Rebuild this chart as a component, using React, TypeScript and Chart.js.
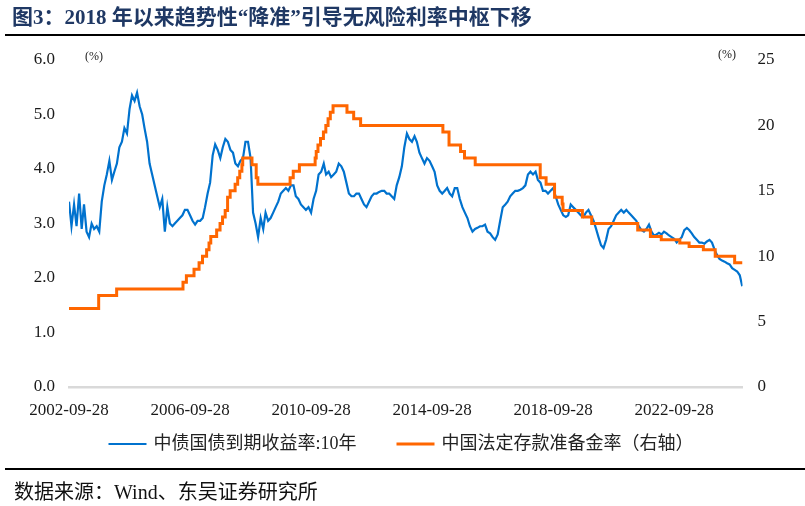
import React, { useEffect, useRef } from 'react';
import { Chart, registerables } from 'chart.js';

Chart.register(...registerables);

const TITLE = '图3：2018 年以来趋势性“降准”引导无风险利率中枢下移';
const SOURCE = '数据来源：Wind、东吴证券研究所';
const SERIES_YIELD = '中债国债到期收益率:10年';
const SERIES_RRR = '中国法定存款准备金率（右轴）';
const UNIT_LEFT = '(%)';
const UNIT_RIGHT = '(%)';

const X_START = '2002-09-28';
const X_END = '2024-12-31';
const X_TICK_LABELS = ['2002-09-28', '2006-09-28', '2010-09-28', '2014-09-28', '2018-09-28', '2022-09-28'];

const LEFT_MIN = 0;
const LEFT_MAX = 6;
const LEFT_STEP = 1;
const RIGHT_MIN = 0;
const RIGHT_MAX = 25;
const RIGHT_STEP = 5;

// 10Y CGB yield, monthly readings (28th of month), starting 2002-09
const YIELD_START_YEAR = 2002;
const YIELD_START_MONTH = 9;
const y2002 = [3.4, 2.95, 3.35, 2.95];
const y2003 = [3.55, 2.9, 3.35, 2.85, 2.75, 3.0, 2.9, 2.95, 2.85, 3.4, 3.7, 3.9];
const y2004 = [4.15, 3.8, 3.95, 4.1, 4.4, 4.5, 4.75, 4.65, 5.1, 5.35, 5.25, 5.4];
const y2005 = [5.15, 5.0, 4.75, 4.5, 4.1, 3.9, 3.7, 3.5, 3.3, 3.45, 2.85, 3.3];
const y2006 = [3.0, 2.95, 3.0, 3.05, 3.1, 3.15, 3.25, 3.25, 3.15, 3.05, 2.98, 3.05];
const y2007 = [3.05, 3.1, 3.3, 3.55, 3.75, 4.25, 4.45, 4.35, 4.2, 4.4, 4.55, 4.5];
const y2008 = [4.35, 4.3, 4.1, 4.05, 4.15, 4.2, 4.5, 4.5, 4.2, 3.2, 3.0, 2.75];
const y2009 = [3.1, 2.9, 3.2, 3.05, 3.1, 3.2, 3.3, 3.4, 3.55, 3.6, 3.65, 3.6];
const y2010 = [3.7, 3.7, 3.5, 3.45, 3.35, 3.3, 3.25, 3.3, 3.2, 3.45, 3.6, 3.9];
const y2011 = [3.95, 4.1, 3.9, 3.95, 3.85, 3.9, 3.95, 4.1, 4.05, 3.95, 3.75, 3.55];
const y2012 = [3.5, 3.5, 3.55, 3.55, 3.45, 3.35, 3.3, 3.4, 3.5, 3.55, 3.55, 3.58];
const y2013 = [3.6, 3.6, 3.55, 3.55, 3.5, 3.45, 3.7, 3.85, 4.05, 4.4, 4.65, 4.55];
const y2014 = [4.5, 4.6, 4.5, 4.3, 4.2, 4.1, 4.2, 4.15, 4.05, 3.95, 3.7, 3.6];
const y2015 = [3.55, 3.6, 3.65, 3.55, 3.5, 3.65, 3.65, 3.45, 3.3, 3.2, 3.1, 2.95];
const y2016 = [2.85, 2.9, 2.92, 2.95, 2.95, 2.98, 2.85, 2.82, 2.75, 2.7, 2.8, 3.05];
const y2017 = [3.3, 3.35, 3.4, 3.5, 3.55, 3.6, 3.6, 3.62, 3.65, 3.7, 3.9, 3.95];
const y2018 = [3.9, 3.95, 3.8, 3.75, 3.6, 3.6, 3.55, 3.6, 3.65, 3.5, 3.35, 3.25];
const y2019 = [3.15, 3.12, 3.15, 3.35, 3.3, 3.25, 3.2, 3.15, 3.12, 3.2, 3.25, 3.15];
const y2020 = [3.05, 2.9, 2.75, 2.6, 2.55, 2.7, 2.9, 2.95, 3.05, 3.15, 3.2, 3.25];
const y2021 = [3.2, 3.25, 3.2, 3.15, 3.1, 3.05, 2.95, 2.88, 2.85, 2.9, 2.98, 2.85];
const y2022 = [2.78, 2.8, 2.83, 2.8, 2.85, 2.82, 2.78, 2.75, 2.72, 2.65, 2.7, 2.75];
const y2023 = [2.88, 2.92, 2.88, 2.82, 2.75, 2.7, 2.65, 2.65, 2.63, 2.67, 2.7, 2.65];
const y2024 = [2.52, 2.42, 2.35, 2.32, 2.3, 2.27, 2.25, 2.18, 2.15, 2.12, 2.05, 1.85];

// Required reserve ratio: change dates and new levels
const RRR_DATES = [
  '2002-09-28', '2003-09-21', '2004-04-25', '2006-07-05', '2006-08-15', '2006-11-15',
  '2007-01-15', '2007-02-25', '2007-04-16', '2007-05-15', '2007-06-05', '2007-08-15',
  '2007-09-25', '2007-10-25', '2007-11-26', '2007-12-25', '2008-01-25', '2008-03-25',
  '2008-04-25', '2008-05-20', '2008-06-15', '2008-06-25', '2008-10-15', '2008-12-05',
  '2008-12-25', '2010-01-18', '2010-02-25', '2010-05-10', '2010-11-16', '2010-11-29',
  '2010-12-20', '2011-01-20', '2011-02-24', '2011-03-25', '2011-04-21', '2011-05-18',
  '2011-06-20', '2011-12-05', '2012-02-24', '2012-05-18', '2015-02-05', '2015-04-20',
  '2015-09-06', '2015-10-24', '2016-03-01', '2018-04-25', '2018-07-05', '2018-10-15',
  '2019-01-15', '2019-01-25', '2019-09-16', '2020-01-06', '2021-07-15', '2021-12-15',
  '2022-04-25', '2022-12-05', '2023-03-27', '2023-09-15', '2024-02-05', '2024-09-27',
  '2024-12-31',
];
const RRR_VALUES = [
  6, 7, 7.5, 8, 8.5, 9,
  9.5, 10, 10.5, 11, 11.5, 12,
  12.5, 13, 13.5, 14.5, 15, 15.5,
  16, 16.5, 17, 17.5, 17, 16,
  15.5, 16, 16.5, 17, 17.5, 18,
  18.5, 19, 19.5, 20, 20.5, 21,
  21.5, 21, 20.5, 20, 19.5, 18.5,
  18, 17.5, 17, 16, 15.5, 14.5,
  14, 13.5, 13, 12.5, 12, 11.5,
  11.25, 11, 10.75, 10.5, 10, 9.5,
  9.5,
];

const FONT = "'Liberation Serif', 'Noto Sans CJK SC', serif";
const BLUE = '#0072CE';
const ORANGE = '#FF6600';

function toYear(s: string): number {
  const [y, m, d] = s.split('-').map(Number);
  const t0 = Date.UTC(y, 0, 1);
  const t1 = Date.UTC(y + 1, 0, 1);
  return y + (Date.UTC(y, m - 1, d) - t0) / (t1 - t0);
}

const YIELD_VALUES = [
  ...y2002, ...y2003, ...y2004, ...y2005, ...y2006, ...y2007, ...y2008, ...y2009,
  ...y2010, ...y2011, ...y2012, ...y2013, ...y2014, ...y2015, ...y2016, ...y2017,
  ...y2018, ...y2019, ...y2020, ...y2021, ...y2022, ...y2023, ...y2024,
];

function yieldDate(i: number): string {
  const mIdx = YIELD_START_MONTH - 1 + i;
  const y = YIELD_START_YEAR + Math.floor(mIdx / 12);
  const m = (mIdx % 12) + 1;
  return `${y}-${String(m).padStart(2, '0')}-28`;
}

const decorPlugin = {
  id: 'decor',
  afterDraw(chart: any) {
    const ctx = chart.ctx;
    ctx.save();
    ctx.fillStyle = '#222';
    ctx.textBaseline = 'middle';
    ctx.textAlign = 'left';
    ctx.font = `12px ${FONT}`;
    ctx.fillText(UNIT_LEFT, 85, 57);
    ctx.fillText(UNIT_RIGHT, 718, 55);

    // legend
    ctx.font = `18px ${FONT}`;
    const items = chart.data.datasets.map((ds: any) => ({
      label: ds.label,
      color: ds.borderColor,
      lw: ds.borderWidth,
    }));
    const lineLen = 38;
    const gap = 7;
    const itemGap = 40;
    const widths = items.map((it: any) => lineLen + gap + ctx.measureText(it.label).width);
    const total = widths.reduce((a: number, b: number) => a + b, 0) + itemGap * (items.length - 1);
    let x = 401 - total / 2;
    const yC = 444;
    items.forEach((it: any, k: number) => {
      ctx.strokeStyle = it.color;
      ctx.lineWidth = it.lw;
      ctx.beginPath();
      ctx.moveTo(x, yC);
      ctx.lineTo(x + lineLen, yC);
      ctx.stroke();
      ctx.fillStyle = '#222';
      ctx.fillText(it.label, x + lineLen + gap, yC);
      x += widths[k] + itemGap;
    });
    ctx.restore();
  },
};

export default function App() {
  const ref = useRef<HTMLCanvasElement | null>(null);

  useEffect(() => {
    if (!ref.current) return;
    const xMin = toYear(X_START);
    const xMax = toYear(X_END);
    const xTicks = X_TICK_LABELS.map(toYear);
    const yieldData = YIELD_VALUES.map((v, i) => ({ x: toYear(yieldDate(i)), y: v }));
    const rrrData = RRR_VALUES.map((v, i) => ({ x: toYear(RRR_DATES[i]), y: v }));

    const chart = new Chart(ref.current, {
      type: 'line',
      data: {
        datasets: [
          {
            label: SERIES_YIELD,
            data: yieldData,
            borderColor: BLUE,
            backgroundColor: BLUE,
            borderWidth: 2.2,
            pointRadius: 0,
            tension: 0,
            yAxisID: 'y',
            order: 1,
          },
          {
            label: SERIES_RRR,
            data: rrrData,
            borderColor: ORANGE,
            backgroundColor: ORANGE,
            borderWidth: 3,
            pointRadius: 0,
            stepped: 'before',
            yAxisID: 'y1',
            order: 0,
          },
        ],
      },
      options: {
        responsive: false,
        animation: false,
        events: [],
        layout: { padding: { top: 60, left: 0, right: 0, bottom: 0 } },
        plugins: {
          legend: { display: false },
          tooltip: { enabled: false },
          title: { display: false },
        },
        scales: {
          x: {
            type: 'linear',
            min: xMin,
            max: xMax,
            grid: { display: false, drawTicks: false },
            border: { display: true, color: '#D9D9D9', width: 2.5 },
            afterBuildTicks: (scale: any) => {
              scale.ticks = xTicks.map((v) => ({ value: v }));
            },
            afterFit: (scale: any) => {
              scale.height = 119;
            },
            ticks: {
              autoSkip: false,
              maxRotation: 0,
              padding: 13,
              color: '#1a1a1a',
              font: { family: FONT, size: 17 },
              callback: (_v: any, i: number) => X_TICK_LABELS[i],
            },
          },
          y: {
            position: 'left',
            min: LEFT_MIN,
            max: LEFT_MAX,
            grid: { display: false, drawTicks: false },
            border: { display: false },
            afterFit: (scale: any) => {
              scale.width = 69;
            },
            ticks: {
              stepSize: LEFT_STEP,
              padding: 14,
              color: '#1a1a1a',
              font: { family: FONT, size: 17 },
              callback: (v: any) => Number(v).toFixed(1),
            },
          },
          y1: {
            position: 'right',
            min: RIGHT_MIN,
            max: RIGHT_MAX,
            grid: { display: false, drawTicks: false },
            border: { display: false },
            afterFit: (scale: any) => {
              scale.width = 62.5;
            },
            ticks: {
              stepSize: RIGHT_STEP,
              padding: 15,
              color: '#1a1a1a',
              font: { family: FONT, size: 17 },
              callback: (v: any) => String(v),
            },
          },
        },
      },
      plugins: [decorPlugin],
    });
    return () => chart.destroy();
  }, []);

  return (
    <div style={{ position: 'fixed', left: 0, top: 0, width: 805, height: 506, background: '#fff' }}>
      <canvas ref={ref} width={805} height={506} style={{ position: 'absolute', left: 0, top: 0 }} />
      <div
        style={{
          position: 'absolute',
          left: 12,
          top: 5,
          fontFamily: FONT,
          fontWeight: 'bold',
          fontSize: 21,
          lineHeight: '24px',
          color: '#1F3864',
          whiteSpace: 'nowrap',
        }}
      >
        {TITLE}
      </div>
      <div style={{ position: 'absolute', left: 5, top: 34, width: 800, height: 2, background: '#000' }} />
      <div style={{ position: 'absolute', left: 5, top: 468, width: 800, height: 2, background: '#000' }} />
      <div
        style={{
          position: 'absolute',
          left: 14,
          top: 479,
          fontFamily: FONT,
          fontSize: 20,
          lineHeight: '26px',
          color: '#111',
          whiteSpace: 'nowrap',
        }}
      >
        {SOURCE}
      </div>
    </div>
  );
}
